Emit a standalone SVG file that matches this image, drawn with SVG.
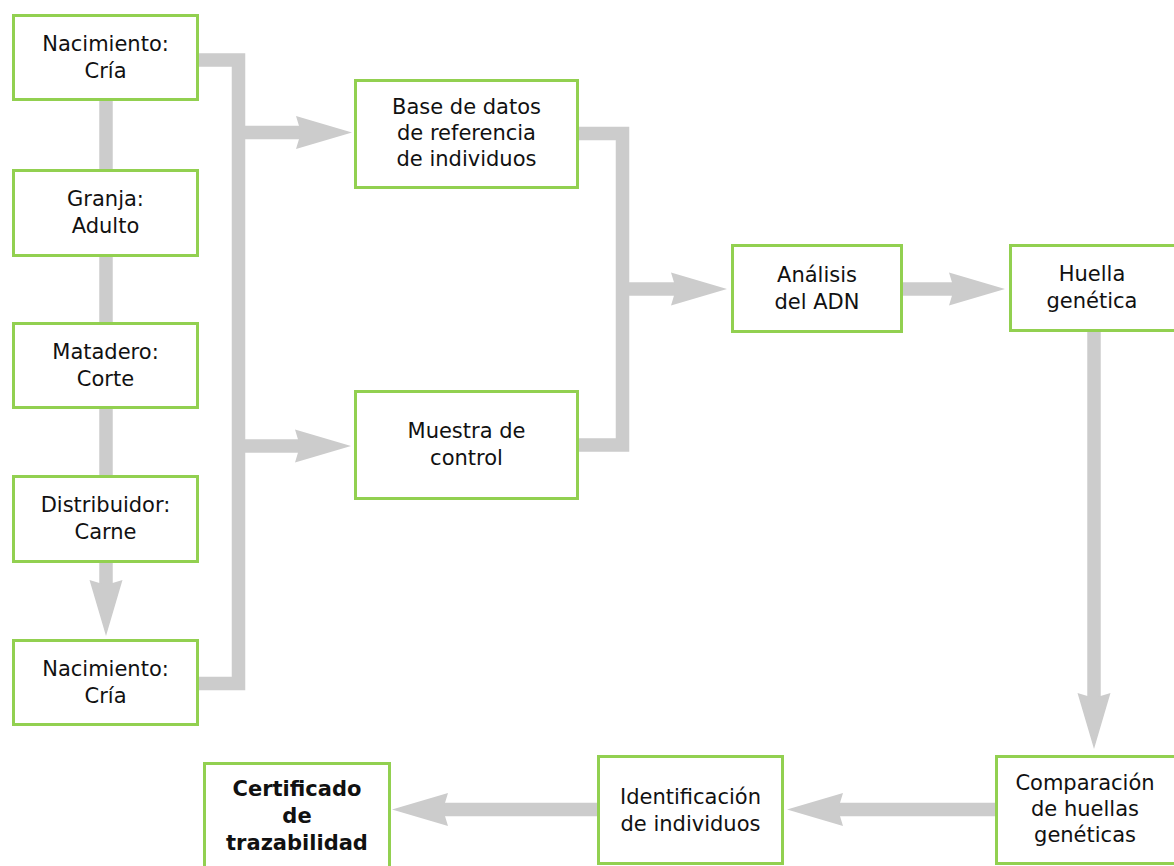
<svg xmlns="http://www.w3.org/2000/svg" width="1174" height="866" viewBox="0 0 1174 866">
  <style>
    .box { fill: #ffffff; stroke: #92d050; stroke-width: 3; }
    .lbl { font-family: "DejaVu Sans", Verdana, sans-serif; font-size: 21px; fill: #111111; text-anchor: middle; }
    .bold { font-weight: bold; }
    .wire { fill: none; stroke: #cccccc; stroke-width: 13.5; stroke-linecap: butt; stroke-linejoin: miter; }
  </style>
  <defs>
    <marker id="ah" markerUnits="userSpaceOnUse" markerWidth="60" markerHeight="36" viewBox="0 -18 60 36" refX="6" refY="0" orient="auto">
      <path d="M0,-16.5 L56,0 L0,16.5 L5,0 z" fill="#cccccc"/>
    </marker>
  </defs>
  <rect width="1174" height="866" fill="#ffffff"/>

  <g id="connectors">
    <!-- left chain -->
    <line class="wire" x1="106" y1="101" x2="106" y2="169"/>
    <line class="wire" x1="106" y1="257" x2="106" y2="322"/>
    <line class="wire" x1="106" y1="409" x2="106" y2="475"/>
    <line class="wire" x1="106" y1="563" x2="106" y2="586" marker-end="url(#ah)"/>
    <!-- collector bar -->
    <path class="wire" d="M199,60 H238.5 V683.5 H199"/>
    <line class="wire" x1="238.5" y1="132.5" x2="302" y2="132.5" marker-end="url(#ah)"/>
    <line class="wire" x1="238.5" y1="446" x2="301" y2="446" marker-end="url(#ah)"/>
    <!-- merge to analysis -->
    <path class="wire" d="M579,133.5 H622.5 V445 H579"/>
    <line class="wire" x1="622.5" y1="289" x2="677" y2="289" marker-end="url(#ah)"/>
    <line class="wire" x1="903" y1="289" x2="955" y2="289" marker-end="url(#ah)"/>
    <line class="wire" x1="1094" y1="332" x2="1094" y2="699" marker-end="url(#ah)"/>
    <line class="wire" x1="995" y1="809.5" x2="837" y2="809.5" marker-end="url(#ah)"/>
    <line class="wire" x1="597" y1="809.5" x2="442" y2="809.5" marker-end="url(#ah)"/>
  </g>

  <g id="n1">
    <rect class="box" x="13.5" y="15.5" width="184" height="84"/>
    <text class="lbl" x="105.5" y="51">Nacimiento:</text>
    <text class="lbl" x="105.5" y="78">Cría</text>
  </g>
  <g id="n2">
    <rect class="box" x="13.5" y="170.5" width="184" height="85"/>
    <text class="lbl" x="105.5" y="206">Granja:</text>
    <text class="lbl" x="105.5" y="233">Adulto</text>
  </g>
  <g id="n3">
    <rect class="box" x="13.5" y="323.5" width="184" height="84"/>
    <text class="lbl" x="105.5" y="359">Matadero:</text>
    <text class="lbl" x="105.5" y="386">Corte</text>
  </g>
  <g id="n4">
    <rect class="box" x="13.5" y="476.5" width="184" height="85"/>
    <text class="lbl" x="105.5" y="512">Distribuidor:</text>
    <text class="lbl" x="105.5" y="539">Carne</text>
  </g>
  <g id="n5">
    <rect class="box" x="13.5" y="640.5" width="184" height="84"/>
    <text class="lbl" x="105.5" y="676">Nacimiento:</text>
    <text class="lbl" x="105.5" y="703">Cría</text>
  </g>
  <g id="n6">
    <rect class="box" x="355.5" y="80.5" width="222" height="107"/>
    <text class="lbl" x="466.5" y="114">Base de datos</text>
    <text class="lbl" x="466.5" y="140">de referencia</text>
    <text class="lbl" x="466.5" y="166">de individuos</text>
  </g>
  <g id="n7">
    <rect class="box" x="355.5" y="391.5" width="222" height="107"/>
    <text class="lbl" x="466.5" y="438">Muestra de</text>
    <text class="lbl" x="466.5" y="465">control</text>
  </g>
  <g id="n8">
    <rect class="box" x="732.5" y="245.5" width="169" height="86"/>
    <text class="lbl" x="817" y="282">Análisis</text>
    <text class="lbl" x="817" y="309">del ADN</text>
  </g>
  <g id="n9">
    <rect class="box" x="1010.5" y="245.5" width="166" height="85"/>
    <text class="lbl" x="1092" y="281">Huella</text>
    <text class="lbl" x="1092" y="308">genética</text>
  </g>
  <g id="n10">
    <rect class="box" x="996.5" y="756.5" width="180" height="107"/>
    <text class="lbl" x="1085" y="790">Comparación</text>
    <text class="lbl" x="1085" y="816">de huellas</text>
    <text class="lbl" x="1085" y="842">genéticas</text>
  </g>
  <g id="n11">
    <rect class="box" x="598.5" y="756.5" width="184" height="107"/>
    <text class="lbl" x="690.5" y="804">Identificación</text>
    <text class="lbl" x="690.5" y="831">de individuos</text>
  </g>
  <g id="n12">
    <rect class="box" x="204.5" y="763.5" width="185" height="106"/>
    <text class="lbl bold" x="297" y="796">Certificado</text>
    <text class="lbl bold" x="297" y="823">de</text>
    <text class="lbl bold" x="297" y="850">trazabilidad</text>
  </g>
</svg>
